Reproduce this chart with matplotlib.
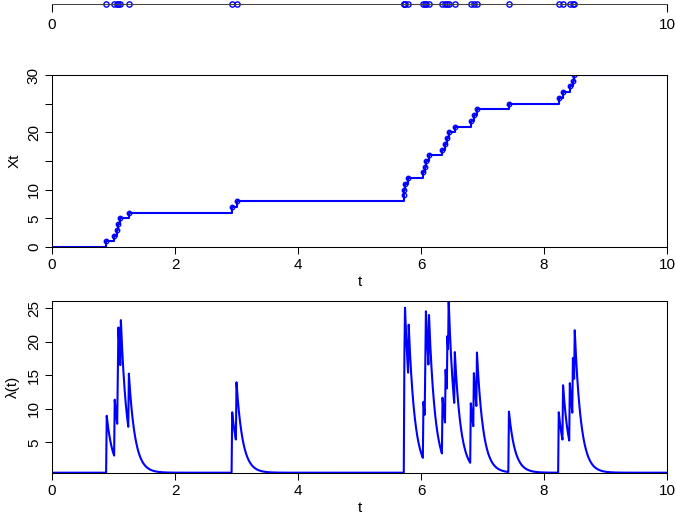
import numpy as np
import matplotlib
matplotlib.use("Agg")
import matplotlib.pyplot as plt

plt.rcParams["font.family"] = ["Liberation Sans", "DejaVu Sans"]
plt.rcParams["font.size"] = 11

# event times (Hawkes process realisation)
event_times = [0.884, 1.015, 1.061, 1.071, 1.111, 1.245, 2.93, 3.0,
               5.722, 5.730, 5.739, 5.795, 6.035, 6.069, 6.079, 6.129,
               6.345, 6.395, 6.43, 6.449, 6.545, 6.81, 6.855, 6.909,
               7.43, 8.24, 8.305, 8.42, 8.47, 8.495]
# intensity parameters
MU, ALPHA, BETA = 0.5, 9.0, 10.0
T_END = 10
x_ticks = [0, 2, 4, 6, 8, 10]
count_ticks = [0, 5, 10, 15, 20, 25, 30]
count_labels = ["0", "5", "10", "", "20", "", "30"]
lam_ticks = [5, 10, 15, 20, 25]

BLUE = "#0000ff"
W, H = 676, 517

ev = np.array(event_times)
grid = np.linspace(0, T_END, 1001)
lam = np.array([MU + ALPHA * np.exp(-BETA * (t - ev[ev <= t])).sum() for t in grid])


def style(ax):
    ax.tick_params(length=5, width=0.75, pad=3, direction="out")
    for s in ax.spines.values():
        s.set_linewidth(0.75)


fig = plt.figure(figsize=(W / 100, H / 100), dpi=100)
left, width = 52 / W, 615 / W

# top strip: events on a bare axis
ax0 = fig.add_axes([left, 1 - 4 / H, width, 0.001])
ax0.plot(ev, np.zeros_like(ev), "o", ms=3.8, mfc="none", mec=BLUE, mew=1, clip_on=False)
ax0.set_xlim(0, T_END)
ax0.set_ylim(0, 1)
for s in ["top", "left", "right"]:
    ax0.spines[s].set_visible(False)
ax0.spines["bottom"].set_color("#444444")
ax0.set_yticks([])
ax0.set_xticks([0, 10])
style(ax0)
ax0.tick_params(axis="x", length=6, pad=4)

# counting process
ax1 = fig.add_axes([left, 1 - 247 / H, width, 172 / H])
steps_t = np.concatenate([[0], ev, [T_END]])
steps_n = np.concatenate([[0], np.arange(1, len(ev) + 1), [len(ev)]])
ax1.step(steps_t, steps_n, where="post", color=BLUE, lw=1.5)
ax1.plot(ev, np.arange(1, len(ev) + 1), "o", ms=3.2, mfc="none", mec=BLUE, mew=1)
ax1.set_xlim(0, T_END)
ax1.set_ylim(0, 30)
ax1.set_xticks(x_ticks)
ax1.set_yticks(count_ticks)
ax1.set_yticklabels(count_labels)
ax1.set_xlabel("t", labelpad=2)
ax1.set_ylabel("Xt", labelpad=4)
style(ax1)
plt.setp(ax1.get_yticklabels(), rotation=90, va="center", ha="right")

# intensity
ax2 = fig.add_axes([left, 1 - 472.7 / H, width, 171.7 / H])
ax2.plot(grid, lam, color=BLUE, lw=1.5)
ax2.set_xlim(0, T_END)
ax2.set_ylim(lam.min(), lam.max())
ax2.set_xticks(x_ticks)
ax2.set_yticks(lam_ticks)
ax2.set_xlabel("t", labelpad=2)
ax2.set_ylabel("λ(t)", labelpad=5)
style(ax2)
plt.setp(ax2.get_yticklabels(), rotation=90, va="center", ha="right")

fig.savefig("out.png", dpi=100)
